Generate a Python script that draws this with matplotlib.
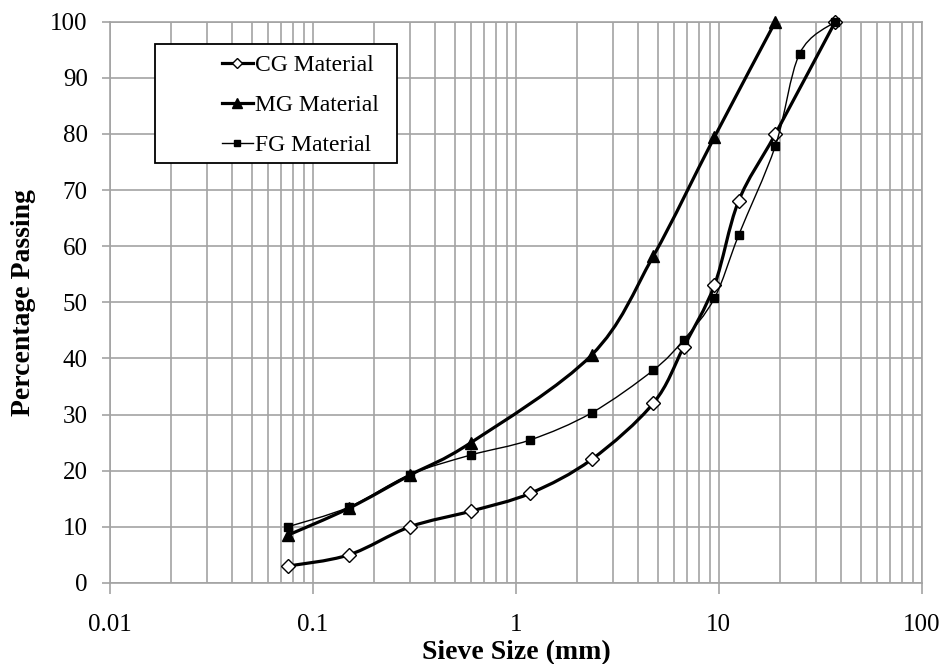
import numpy as np
import matplotlib
matplotlib.use('Agg')
import matplotlib.pyplot as plt
from matplotlib.path import Path
from matplotlib.patches import PathPatch, Rectangle
from matplotlib.lines import Line2D
from matplotlib.ticker import LogLocator, NullFormatter

plt.rcParams['font.family'] = ['Liberation Serif', 'DejaVu Serif']

# sieve sizes (mm) and percentage passing for the three gradations
cg_size = [0.075, 0.15, 0.3, 0.6, 1.18, 2.36, 4.75, 6.7, 9.5, 12.5, 19, 37.5]
cg_pass = [3, 5, 10, 12.8, 16, 22, 32, 42, 53, 68, 80, 100]

mg_size = [0.075, 0.15, 0.3, 0.6, 2.36, 4.75, 9.5, 19]
mg_pass = [8.5, 13.3, 19.2, 25, 40.6, 58.2, 79.4, 100]

fg_size = [0.075, 0.15, 0.3, 0.6, 1.18, 2.36, 4.75, 6.7, 9.5, 12.5, 19, 25, 37.5]
fg_pass = [10, 13.5, 19.3, 22.8, 25.5, 30.3, 37.9, 43.3, 50.7, 61.9, 77.9, 94.3, 100]

x_ticks = [0.01, 0.1, 1, 10, 100]
x_labels = ['0.01', '0.1', '1', '10', '100']
y_ticks = list(range(0, 101, 10))

GRID_COLOR = '#a3a3a3'


def smooth_path(x, y):
    # smoothed line like the spreadsheet one: cubic bezier through each point,
    # control points taken from the neighbours (1/6 tension) in log-x space
    u = np.log10(np.asarray(x, float))
    v = np.asarray(y, float)
    n = len(u)
    verts = [(u[0], v[0])]
    codes = [Path.MOVETO]
    for i in range(n - 1):
        a = max(i - 1, 0)
        b = min(i + 2, n - 1)
        c1 = (u[i] + (u[i + 1] - u[a]) / 6, v[i] + (v[i + 1] - v[a]) / 6)
        c2 = (u[i + 1] - (u[b] - u[i]) / 6, v[i + 1] - (v[b] - v[i]) / 6)
        verts += [c1, c2, (u[i + 1], v[i + 1])]
        codes += [Path.CURVE4] * 3
    verts = np.array(verts)
    verts[:, 0] = 10 ** verts[:, 0]
    return Path(verts, codes)


fig = plt.figure(figsize=(9.44, 6.64), dpi=100)
ax = fig.add_axes([0.1165, 0.122, 0.86, 0.8455])

ax.set_xscale('log')
ax.set_xlim(0.01, 100)
ax.set_ylim(0, 100)
ax.set_xticks(x_ticks)
ax.set_xticklabels(x_labels)
ax.xaxis.set_minor_locator(LogLocator(base=10, subs=np.arange(2, 10)))
ax.xaxis.set_minor_formatter(NullFormatter())
ax.set_yticks(y_ticks)

ax.grid(which='major', color=GRID_COLOR, lw=1.2, zorder=0)
ax.xaxis.grid(which='minor', color=GRID_COLOR, lw=1.2)
ax.set_axisbelow(True)
for sp in ax.spines.values():
    sp.set_color(GRID_COLOR)
    sp.set_linewidth(1.2)

ax.tick_params(axis='both', which='major', color=GRID_COLOR, width=1.2,
               labelcolor='black', labelsize=18)
ax.tick_params(axis='x', which='major', length=8, pad=14)
ax.tick_params(axis='y', which='major', length=6, pad=10)
ax.tick_params(axis='x', which='minor', length=0)

ax.set_xlabel('Sieve Size (mm)', fontsize=20, fontweight='bold', labelpad=3)
ax.set_ylabel('Percentage Passing', fontsize=20, fontweight='bold', labelpad=10)

series = [
    (cg_size, cg_pass, 2.3, dict(marker='D', ms=7, mfc='white', mec='black', mew=1.0)),
    (mg_size, mg_pass, 2.3, dict(marker='^', ms=9, mfc='black', mec='black')),
    (fg_size, fg_pass, 1.0, dict(marker='s', ms=5.5, mfc='black', mec='black')),
]
for z, (xs, ys, lw, mk) in enumerate(series):
    ax.add_patch(PathPatch(smooth_path(xs, ys), fill=False, edgecolor='black',
                           lw=lw, zorder=3 + z, clip_on=False))
    ax.plot(xs, ys, linestyle='none', zorder=3.5 + z, clip_on=False, **mk)

# legend box drawn separately so the entries sit right of a wide margin
ax.add_patch(Rectangle((0.0554, 0.748), 0.2977, 0.212, transform=ax.transAxes,
                       facecolor='white', edgecolor='black', lw=1.3, zorder=8))
handles = [
    Line2D([], [], color='black', lw=2.3, marker='D', ms=5, mfc='white', mec='black'),
    Line2D([], [], color='black', lw=2.3, marker='^', ms=7, mfc='black'),
    Line2D([], [], color='black', lw=1.0, marker='s', ms=4.5, mfc='black'),
]
leg = ax.legend(handles, ['CG Material', 'MG Material', 'FG Material'],
                loc='upper left', bbox_to_anchor=(0.138, 0.9415), frameon=False,
                fontsize=17, borderpad=0, handlelength=1.3, handletextpad=0.1,
                labelspacing=0.78, borderaxespad=0)
leg.set_zorder(9)

fig.savefig('out.png', dpi=100)
